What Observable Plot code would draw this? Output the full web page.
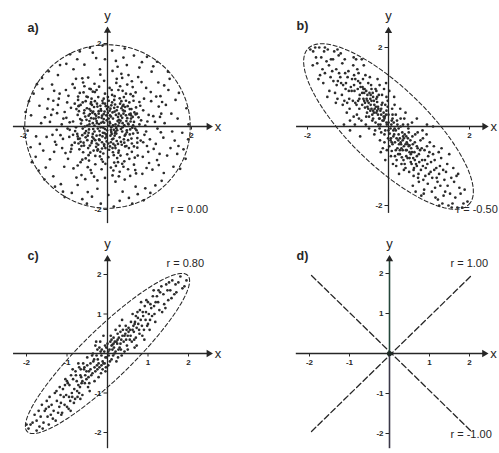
<!DOCTYPE html>
<html><head><meta charset="utf-8">
<script src="https://cdn.jsdelivr.net/npm/d3@7"></script>
<script src="https://cdn.jsdelivr.net/npm/@observablehq/plot@0.6"></script>
<style>
html,body{margin:0;padding:0;background:#fff;overflow:hidden}
#fig{position:relative;width:499px;height:453px;overflow:hidden}
#fig > div{position:absolute;overflow:hidden}
</style></head><body><div id="fig"></div>
<script>
// Sample a): uncorrelated cloud inside a circle
const aPts = [
[0.12,0.34],[-0.25,0.08],[0.41,-0.22],[-0.08,-0.47],[0.55,0.31],[-0.61,0.15],[0.03,0.62],[-0.33,-0.29],[0.27,-0.58],[-0.49,0.44],
[0.66,-0.05],[-0.14,0.21],[0.38,0.52],[-0.72,-0.18],[0.09,-0.13],[-0.41,-0.63],[0.58,-0.41],[-0.22,0.71],[0.19,0.05],[-0.05,-0.28],
[0.31,0.14],[-0.57,-0.39],[0.74,0.22],[-0.18,-0.72],[0.46,-0.09],[-0.36,0.33],[0.07,0.43],[-0.68,0.37],[0.22,-0.35],[-0.11,0.56],
[0.52,0.58],[-0.44,-0.07],[0.15,-0.69],[-0.27,-0.49],[0.63,0.11],[-0.02,0.15],[0.35,-0.12],[-0.53,0.24],[0.11,0.76],[-0.75,-0.02],
[0.44,0.27],[-0.19,-0.11],[0.29,0.68],[-0.62,-0.47],[0.71,-0.28],[-0.07,0.36],[0.17,-0.22],[-0.39,0.59],[0.58,-0.61],[-0.31,0.02],
[0.04,-0.56],[-0.47,0.71],[0.37,0.39],[-0.66,-0.29],[0.25,0.23],[-0.13,-0.38],[0.49,0.07],[-0.24,0.48],[0.68,0.46],[-0.58,-0.62],
[0.13,0.19],[-0.35,-0.18],[0.42,-0.48],[-0.09,0.67],[0.21,-0.04],[-0.71,0.28],[0.33,0.61],[-0.17,-0.61],[0.61,-0.17],[-0.43,0.13],
[0.06,0.27],[-0.29,-0.71],[0.53,0.42],[-0.64,0.52],[0.18,-0.46],[-0.01,-0.09],[0.39,-0.31],[-0.52,-0.26],[0.76,0.05],[-0.21,0.31],
[0.28,0.09],[-0.38,0.67],[0.47,-0.67],[-0.12,-0.24],[0.64,0.34],[-0.77,-0.11],[0.09,0.51],[-0.26,-0.41],[0.36,-0.02],[-0.55,0.39],
[0.02,-0.74],[-0.46,-0.52],[0.56,0.19],[-0.15,0.09],[0.24,0.47],[-0.69,-0.41],[0.43,-0.19],[-0.32,0.47],[0.14,-0.29],[-0.06,0.79],
[0.71,-0.39],[-0.48,0.02],[0.32,0.26],[-0.23,-0.55],[0.51,-0.52],[-0.63,0.07],[0.16,0.64],[-0.37,-0.35],[0.62,0.62],[-0.1,-0.65],
[0.26,-0.63],[-0.59,0.58],[0.45,0.13],[-0.28,0.19],[0.08,-0.38],[-0.74,0.42],[0.69,-0.09],[-0.16,0.42],[0.34,-0.44],[-0.42,-0.46],
[0.2,0.28],[-0.04,0.49],[0.57,-0.29],[-0.51,-0.11],[0.1,-0.18],[-0.3,0.61],[0.48,0.49],[-0.67,-0.55],[0.01,0.33],[-0.2,-0.31],
[0.4,0.03],[-0.56,0.32],[0.23,-0.76],[-0.34,-0.06],[0.6,0.23],[-0.08,-0.43],[0.3,0.55],[-0.45,0.26],[0.12,-0.52],[-0.7,-0.3],
[0.54,-0.07],[-0.25,0.55],[0.39,0.71],[-0.6,-0.21],[0.05,0.11],[-0.14,-0.79],[0.67,0.29],[-0.4,0.38],[0.17,0.36],[-0.03,-0.19],
[0.15,-0.08],[-0.09,0.18],[0.27,0.31],[-0.31,-0.12],[0.08,0.24],[-0.18,-0.21],[0.36,0.08],[-0.27,0.26],[0.02,-0.41],[-0.43,0.05],
[0.49,-0.33],[-0.12,0.62],[0.21,-0.17],[-0.54,-0.16],[0.33,0.44],[-0.06,-0.06],[0.61,0.03],[-0.37,0.52],[0.11,-0.31],[-0.22,-0.44],
[0.44,0.62],[-0.65,0.18],[0.06,0.08],[-0.15,0.38],[0.29,-0.26],[-0.48,-0.33],[0.57,0.42],[-0.03,0.27],[0.18,0.53],[-0.33,-0.58],
[0.72,-0.15],[-0.59,-0.05],[0.24,0.13],[-0.11,-0.15],[0.4,-0.39],[-0.26,0.13],[0.01,0.71],[-0.71,-0.24],[0.52,0.29],[-0.42,0.3],
[0.13,-0.62],[-0.2,0.06],[0.35,0.21],[-0.05,-0.52],[0.63,-0.48],[-0.52,0.61],[0.22,0.39],[-0.36,-0.25],[0.09,-0.02],[-0.17,0.5],
[0.46,-0.14],[-0.64,-0.37],[0.31,-0.7],[-0.08,0.09],[0.55,0.12],[-0.29,-0.33],[0.17,0.73],[-0.45,-0.69],[0.7,0.31],[-0.02,-0.24],
[0.26,0.02],[-0.39,0.2],[0.05,0.38],[-0.56,-0.46],[0.42,0.47],[-0.23,-0.05],[0.14,-0.42],[-0.68,0.5],[0.59,-0.03],[-0.13,0.26],
[0.03,0.19],[-0.16,-0.02],[0.23,-0.09],[-0.09,0.3],[0.16,0.45],[-0.35,0.08],[0.47,0.2],[-0.26,-0.22],[0.06,-0.48],[-0.43,0.42],
[0.32,-0.37],[-0.13,-0.53],[0.53,-0.19],[-0.5,0.16],[0.11,0.58],[-0.02,-0.36],[0.27,0.16],[-0.21,0.37],[0.41,0.37],[-0.38,-0.4],
[0.08,-0.08],[-0.3,0.3],[0.19,-0.52],[-0.06,0.55],[0.5,0.05],[-0.47,-0.22],[0.36,0.49],[-0.19,-0.33],[0.13,0.03],[-0.54,0.0],
[0.25,-0.42],[-0.11,0.11],[0.45,-0.47],[-0.4,0.55],[0.02,0.47],[-0.24,-0.58],[0.56,0.27],[-0.33,0.19],[0.18,-0.16],[-0.07,-0.16],
[0.8,0.15],[-0.82,-0.2],[0.25,-0.86],[-0.3,0.83],[0.85,-0.38],[-0.78,0.55],[0.55,0.78],[-0.6,-0.8],[0.1,0.88],[-0.05,-0.9],
[0.92,-0.12],[-0.9,0.1],[0.65,-0.75],[-0.7,0.72],[0.78,0.5],[-0.85,-0.45],[0.35,-0.9],[-0.4,0.9],[0.2,-0.95],[-0.95,-0.05],
[0.04,0.02],[-0.1,-0.03],[0.19,-0.12],[-0.21,0.22],[0.32,-0.06],[-0.34,0.36],[0.07,-0.22],[-0.01,0.42],[0.38,0.31],[-0.45,-0.15],
[0.95,0.12],[-1.02,0.35],[0.21,1.05],[-0.38,-1.12],[1.15,-0.42],[-0.88,-0.61],[0.67,0.82],[-0.55,0.97],[0.84,-0.73],[-1.21,-0.08],
[0.12,-1.18],[-0.17,1.25],[1.28,0.31],[-0.93,0.74],[0.49,-1.03],[-0.71,-0.94],[1.04,0.61],[-1.3,0.41],[0.33,1.27],[-0.29,-0.91],
[0.88,-0.2],[-0.82,0.12],[0.58,1.09],[-0.62,-1.17],[1.19,-0.05],[-1.08,-0.52],[0.05,0.93],[-0.46,1.18],[0.97,-0.61],[-0.99,0.88],
[0.41,-1.28],[-1.25,-0.37],[0.76,0.59],[-0.14,-1.03],[1.33,-0.27],[-0.7,0.64],[0.26,0.88],[-0.91,-0.25],[0.63,-0.92],[-0.35,0.84],
[1.09,0.25],[-1.16,0.67],[0.16,-0.87],[-0.52,-0.77],[0.92,0.93],[-1.37,0.11],[0.47,1.01],[-0.81,-1.01],[1.24,-0.66],[-0.08,1.1],
[0.71,-0.51],[-1.05,0.19],[0.38,-0.97],[-0.66,0.81],[1.01,-0.31],[-0.94,-0.78],[0.12,1.34],[-0.24,-1.3],[0.85,0.39],[-1.18,0.52],
[0.54,-1.19],[-0.43,0.91],[1.16,0.72],[-0.78,-0.39],[0.29,-1.09],[-1.27,-0.61],[0.81,1.07],[-0.6,1.16],[1.36,0.08],[-0.11,-0.85],
[0.99,-0.88],[-0.87,0.45],[0.44,0.79],[-1.12,-0.21],[0.68,-1.13],[-0.31,1.03],[1.22,0.48],[-0.74,-1.23],[0.19,-1.33],[-1.34,0.28],
[0.9,0.02],[-0.5,0.72],[1.07,-1.04],[-1.03,-0.97],[0.35,1.17],[-0.2,0.96],[0.79,-0.34],[-0.96,0.58],[0.6,0.95],[-1.22,-0.44],
[0.08,-0.99],[-0.64,-0.86],[1.27,-0.14],[-0.83,1.02],[0.52,-0.78],[-1.09,0.05],[0.73,1.19],[-0.4,-1.05],[1.13,0.11],[-0.57,0.82],
[0.22,1.15],[-1.31,-0.2],[0.94,-0.47],[-0.78,0.93],[0.4,-0.84],[-1.0,-0.64],[1.03,0.83],[-0.18,1.38],[0.66,-1.05],[-0.9,-0.08],
[1.3,0.59],[-0.47,-0.98],[0.3,0.97],[-1.14,0.79],[0.83,-1.14],[-0.69,0.49],[1.18,-0.81],[-0.06,-1.24],[0.5,1.24],[-1.2,0.32],
[0.98,0.28],[-0.32,-1.21],[0.14,-1.06],[-0.86,-0.54],[1.25,0.23],[-0.58,1.06],[0.72,-0.7],[-1.06,-0.3],[0.36,0.86],[-0.98,0.21],
[0.87,0.67],[-0.44,-0.82],[1.1,-0.54],[-0.75,1.15],[0.27,-1.2],[-1.29,0.62],[0.61,0.73],[-0.26,0.88],[0.93,-1.0],[-0.53,-1.27],
[1.52,0.31],[-1.61,-0.42],[0.38,1.66],[-0.47,-1.58],[1.21,1.06],[-1.18,1.24],[1.34,-1.12],[-1.29,-1.2],[1.78,-0.15],[-1.82,0.27],
[0.11,1.83],[-0.16,-1.86],[1.45,0.88],[-1.55,0.91],[0.9,-1.49],[-0.85,-1.6],[1.66,-0.66],[-1.71,-0.73],[0.63,1.71],[-0.72,1.62],
[1.88,0.44],[-1.9,-0.1],[0.29,-1.79],[-0.35,1.78],[1.09,1.45],[-1.4,1.33],[1.57,-0.97],[-1.47,-0.99],[1.93,0.05],[-1.62,0.5],
[0.51,-1.72],[-0.6,-1.75],[1.39,0.52],[-1.45,-0.25],[0.82,1.55],[-0.98,1.51],[1.29,-1.31],[-1.11,-1.39],[1.7,0.81],[-1.76,0.79],
[0.02,-1.65],[-0.06,1.62],[1.6,-0.34],[-1.58,0.08],[1.02,-1.6],[-1.06,-1.57],[0.46,1.48],[-0.55,1.49],[1.81,-0.55],[-1.83,-0.5],
[1.48,1.15],[-1.32,1.01],[0.72,-1.63],[-0.24,-1.5],[1.42,-0.7],[-1.53,-0.58],[0.2,1.58],[-0.89,1.74],[1.67,0.19],[-1.68,1.02],
[1.14,-1.42],[-1.25,-1.45],[0.94,1.68],[-0.42,1.9],[1.86,-0.78],[-1.95,0.35],[0.59,-1.86],[-0.71,-1.41],[1.35,0.99],[-1.13,1.48],
[1.54,-0.12],[-1.49,0.22],[0.36,-1.57],[-1.02,-1.7],[1.62,0.64],[-1.7,-0.24],[0.76,1.42],[-0.27,1.65],[1.22,-0.93],[-1.37,-0.79],
[1.44,1.32],[-1.56,1.17],[0.15,-1.93],[-0.49,-1.86],[1.92,-0.31],[-1.8,-0.86],[0.41,1.88],[-0.81,1.38],[1.73,-1.02],[-1.41,0.66],
[1.05,1.32],[-1.27,0.86],[0.67,-1.45],[-1.64,-1.06],[1.5,-0.52],[-1.5,-1.28],[0.24,1.44],[-0.12,1.95],[1.26,0.73],[-1.87,0.61],
[0.86,-1.78],[-0.37,-1.69],[1.69,-0.47],[-1.43,0.43],[1.18,1.56],[-0.66,1.81]
];

// Sample b): negative correlation
const bPts = [
[0.10,0.20],[-0.20,0.05],[0.35,-0.60],[-0.45,0.70],[0.05,-0.35],[0.50,-0.15],[-0.30,0.90],[0.25,-0.05],[-0.55,0.25],[0.40,-0.95],
[-0.10,-0.40],[0.15,0.55],[-0.40,0.15],[0.55,-0.70],[0.00,0.30],[-0.25,0.45],[0.30,0.20],[-0.50,1.10],[0.45,-0.40],[-0.05,0.75],
[0.20,-0.85],[-0.35,-0.20],[0.58,0.10],[-0.15,0.15],[0.08,-0.62],[-0.58,0.48],[0.28,-0.30],[-0.22,1.05],[0.42,0.35],[-0.08,-0.85],
[0.12,-0.10],[-0.48,-0.05],[0.38,-1.10],[-0.28,0.62],[0.52,-0.48],[-0.02,0.50],[0.18,0.30],[-0.42,0.95],[0.33,-0.78],[-0.12,0.35],
[0.03,-0.18],[-0.52,0.80],[0.48,0.05],[-0.18,-0.15],[0.22,-0.55],[-0.38,0.40],[0.57,-0.95],[-0.06,1.10],[0.14,0.75],[-0.32,0.10],
[0.26,-1.20],[-0.56,0.05],[0.44,-0.25],[-0.24,0.80],[0.06,-0.75],[-0.46,1.25],[0.36,0.05],[-0.14,-0.55],[0.54,-0.35],[-0.36,0.65],
[0.09,0.45],[-0.21,-0.35],[0.31,-0.45],[-0.59,0.95],[0.47,-0.80],[-0.09,0.25],[0.19,-1.00],[-0.44,0.55],[0.39,0.20],[-0.27,1.20],
[0.02,0.90],[-0.53,0.35],[0.24,-0.70],[-0.17,0.55],[0.51,-1.15],[-0.33,-0.10],[0.13,0.10],[-0.04,-0.60],[0.43,-0.60],[-0.49,0.60],
[0.29,0.45],[-0.26,0.30],[0.56,-0.55],[-0.11,0.95],[0.16,-0.40],[-0.57,1.30],[0.34,-0.15],[-0.39,0.85],[0.07,0.05],[-0.19,-0.65],
[0.49,-0.05],[-0.31,0.50],[0.21,0.15],[-0.01,-0.30],[0.37,-0.85],[-0.54,0.70],[0.11,-0.95],[-0.23,0.20],[0.59,-0.25],[-0.43,1.05],
[0.05,-0.05],[-0.10,0.20],[0.20,-0.30],[-0.30,0.35],[0.15,-0.05],[-0.05,0.10],[0.30,-0.40],[-0.20,0.40],[0.40,-0.20],[-0.40,0.30],
[0.10,-0.45],[-0.15,0.60],[0.25,-0.20],[-0.25,0.05],[0.35,-0.35],[-0.35,0.55],[0.50,-0.50],[-0.50,0.45],[0.00,0.10],[-0.05,0.40],
[0.45,-0.60],[-0.45,0.40],[0.60,-0.45],[-0.60,0.65],[0.18,-0.60],[-0.18,0.30],[0.08,0.15],[-0.08,-0.10],[0.28,-0.70],[-0.28,0.75],
[0.55,-0.90],[-0.55,0.90],[0.65,-0.85],[-0.65,0.85],[0.75,-0.70],[-0.75,0.65],[0.12,-0.25],[-0.12,0.15],[0.38,-0.50],[-0.38,0.20],
[0.22,0.05],[-0.22,-0.05],[0.48,-0.30],[-0.48,0.25],[0.02,-0.50],[-0.02,0.65],[0.32,-0.95],[-0.32,0.95],[0.70,-1.00],[-0.70,1.10],
[0.82,-0.55],[-0.82,0.60],[0.58,-0.65],[-0.58,0.60],[0.44,-0.75],[-0.44,0.80],[0.16,-0.75],[-0.16,0.80],[0.26,-0.45],[-0.26,0.50],
[0.36,-0.25],[-0.36,0.35],[0.06,-0.30],[-0.06,0.30],[0.52,-0.80],[-0.52,0.50],[0.62,-1.10],[-0.62,0.95],[0.72,-0.55],[-0.72,0.70],
[0.85,-1.00],[-0.85,1.05],[0.42,-1.05],[-0.42,0.65],[0.10,0.30],[-0.10,-0.20],[0.30,0.00],[-0.30,0.70],[0.47,-0.45],[-0.47,0.85],
[0.00,-0.10],[-0.12,0.25],[0.14,-0.20],[-0.22,0.20],[0.24,-0.35],[-0.34,0.45],[0.32,-0.55],[-0.04,0.05],[0.42,-0.45],[-0.42,0.45],
[0.18,-0.10],[-0.18,0.45],[0.28,-0.60],[-0.28,0.40],[0.08,-0.40],[-0.08,0.55],[0.52,-0.65],[-0.52,0.65],[0.38,-0.30],[-0.38,0.75],
[0.65,-0.40],[0.80,-1.10],[0.70,-0.75],[0.95,-0.50],[0.75,-1.40],[1.05,-0.90],[0.85,-0.30],[1.15,-1.55],[0.62,-1.25],[0.90,-0.85],
[1.00,-1.20],[0.72,-0.15],[1.10,-0.70],[0.68,-0.95],[0.88,-1.60],[1.18,-1.05],[0.78,-0.60],[0.97,-1.45],[0.64,-0.65],[1.08,-1.30],
[0.83,-0.85],[0.74,-1.20],[1.02,-0.40],[0.92,-1.05],[0.66,-0.20],[1.12,-0.50],[0.86,-1.35],[0.60,-1.50],[0.98,-0.75],[1.16,-1.80],
[0.70,-0.50],[0.94,-0.20],[0.81,-1.75],[1.04,-1.15],[0.76,-0.90],[0.63,-1.05],[1.14,-0.85],[0.89,-0.60],[0.73,-1.30],[1.07,-1.65],
[0.84,-0.10],[0.96,-0.95],[0.67,-1.65],[1.19,-1.30],[0.79,-0.35],[1.01,-0.65],[0.91,-1.25],[0.61,-0.80],[1.13,-1.10],[0.87,-1.70],
[-0.65,0.55],[-0.82,1.20],[-0.71,0.80],[-0.96,0.45],[-0.77,1.45],[-1.06,0.95],[-0.86,0.25],[-1.14,1.60],[-0.63,1.20],[-0.91,0.90],
[-1.01,1.25],[-0.73,0.20],[-1.09,0.65],[-0.69,1.00],[-0.87,1.55],[-1.17,1.10],[-0.79,0.55],[-0.99,1.40],[-0.62,0.70],[-1.07,1.35],
[-0.84,0.90],[-0.75,1.15],[-1.03,0.35],[-0.93,1.00],[-0.67,0.15],[-1.13,0.55],[-0.85,1.30],[-0.61,1.55],[-0.97,0.70],[-1.18,1.85],
[-0.72,0.45],[-0.95,0.15],[-0.80,1.70],[-1.05,1.10],[-0.76,0.95],[-0.64,1.00],[-1.15,0.80],[-0.88,0.65],[-0.74,1.35],[-1.08,1.70],
[-0.83,0.05],[-0.98,0.90],[-0.66,1.70],[-1.19,1.25],[-0.78,0.30],[-1.02,0.60],[-0.90,1.20],[-0.60,0.85],[-1.12,1.05],[-0.86,1.75],
[0.70,0.20],[-0.70,-0.25],[0.95,0.05],[-0.95,-0.10],[1.10,0.00],[-1.10,0.05],
[1.25,-1.20],[1.40,-1.65],[1.30,-0.80],[1.55,-1.30],[1.22,-1.85],[1.65,-1.80],[1.35,-1.10],[1.48,-2.00],[1.75,-1.55],[1.28,-1.50],
[1.60,-1.05],[1.45,-0.95],[1.85,-1.95],[1.38,-1.35],[1.70,-2.05],[1.52,-1.70],[1.24,-0.65],[1.95,-1.90],[1.33,-1.95],[1.62,-1.40],
[1.42,-1.15],[1.78,-1.70],[1.27,-1.00],[1.58,-1.95],[1.50,-0.70],[1.88,-1.60],[1.36,-1.75],[1.68,-1.25],[1.21,-1.40],[1.46,-1.50],
[1.56,-2.05],[1.72,-1.20],[1.31,-0.55],[1.82,-2.05],[1.25,-2.00],
[-1.25,1.15],[-1.42,1.70],[-1.32,0.85],[-1.57,1.35],[-1.23,1.80],[-1.66,1.75],[-1.36,1.15],[-1.50,1.95],[-1.76,1.60],[-1.29,1.45],
[-1.61,1.10],[-1.46,0.90],[-1.86,1.90],[-1.39,1.40],[-1.71,2.00],[-1.53,1.65],[-1.26,0.70],[-1.93,1.95],[-1.34,1.90],[-1.63,1.45],
[-1.43,1.25],[-1.79,1.75],[-1.28,1.05],[-1.59,1.90],[-1.51,0.75],[-1.87,1.55],[-1.37,1.70],[-1.69,1.30],[-1.22,1.35],[-1.47,1.55],
[-1.57,2.00],[-1.73,1.20],[-1.30,0.60],[-1.81,2.00],[-1.26,1.95]
];

// Sample c): strong positive correlation
const cPts = [
[0.05,0.10],[-0.10,-0.25],[0.20,0.05],[-0.25,0.10],[0.15,0.40],[-0.05,-0.45],[0.30,0.15],[-0.35,-0.20],[0.10,-0.15],[-0.20,0.15],
[0.40,0.30],[-0.40,-0.55],[0.25,0.50],[-0.15,-0.05],[0.00,0.25],[0.35,-0.05],[-0.30,-0.45],[0.50,0.45],[-0.50,-0.30],[0.12,0.22],
[-0.08,0.05],[0.45,0.70],[-0.45,-0.75],[0.22,-0.20],[-0.28,0.30],[0.55,0.35],[-0.55,-0.55],[0.02,-0.30],[0.32,0.55],[-0.12,-0.40],
[0.18,0.30],[-0.38,-0.05],[0.48,0.20],[-0.22,-0.60],[0.08,0.45],[-0.02,-0.10],[0.28,0.40],[-0.48,-0.85],[0.42,0.05],[-0.18,0.30],
[0.58,0.80],[-0.58,-0.40],[0.14,-0.05],[-0.32,-0.70],[0.38,0.60],[-0.06,0.20],[0.24,0.25],[-0.42,-0.25],[0.52,0.65],[-0.26,-0.30],
[0.06,-0.20],[-0.14,0.10],[0.34,0.35],[-0.52,-0.65],[0.44,0.50],[-0.36,0.00],[0.16,0.15],[-0.04,-0.35],[0.26,-0.10],[-0.24,-0.15],
[0.46,0.35],[-0.46,-0.45],[0.10,0.35],[-0.16,-0.50],[0.56,0.60],[-0.56,-0.75],[0.30,0.70],[-0.30,0.20],[0.20,0.60],[-0.10,0.45],
[0.36,0.85],[-0.44,-0.95],[0.50,0.10],[-0.50,-0.10],
[0.02,0.05],[-0.05,-0.10],[0.12,0.10],[-0.12,-0.20],[0.22,0.30],[-0.22,-0.25],[0.32,0.25],[-0.32,-0.35],[0.42,0.45],[-0.42,-0.40],
[0.52,0.55],[-0.52,-0.45],[0.62,0.60],[-0.62,-0.70],[0.07,0.30],[-0.07,-0.25],[0.17,0.00],[-0.17,0.05],[0.27,0.10],[-0.27,-0.05],
[0.37,0.45],[-0.37,-0.50],[0.47,0.60],[-0.47,-0.60],[0.57,0.45],[-0.57,-0.35],[0.67,0.75],[-0.67,-0.55],[0.03,-0.05],[-0.03,0.15],
[0.10,0.20],[-0.20,-0.35],[0.33,0.10],[-0.33,-0.15],[0.72,0.65],[-0.72,-0.80],[0.15,0.25],[-0.15,-0.30],[0.25,0.35],[-0.25,-0.40],
[0.65,0.55],[0.75,0.90],[0.85,0.70],[0.70,0.40],[0.95,1.05],[0.80,1.10],[1.05,0.85],[0.90,0.60],[1.15,1.20],[0.68,0.80],
[0.88,0.95],[1.00,1.30],[0.72,0.20],[1.10,0.95],[0.62,1.00],[0.98,0.70],[0.78,0.60],[1.12,1.45],[0.83,1.30],[1.18,0.80],
[0.92,1.20],[0.66,0.35],[1.02,1.00],[0.76,0.75],[1.08,1.15],[0.86,0.45],[0.96,1.35],[0.64,0.70],[1.16,1.00],[0.74,1.05],
[0.82,0.85],[1.04,0.60],[0.94,0.85],[0.70,0.95],[1.14,1.60],[0.60,0.30],[0.87,1.05],[1.06,1.25],[0.79,0.50],[1.00,0.75],
[0.67,0.15],[0.91,0.35],[1.19,1.30],
[-0.65,-0.60],[-0.75,-0.95],[-0.85,-0.65],[-0.70,-0.35],[-0.95,-1.10],[-0.80,-1.15],[-1.05,-0.80],[-0.90,-0.55],[-1.15,-1.25],[-0.68,-0.85],
[-0.88,-1.00],[-1.00,-1.35],[-0.72,-0.25],[-1.10,-0.90],[-0.62,-1.05],[-0.98,-0.75],[-0.78,-0.55],[-1.12,-1.50],[-0.83,-1.25],[-1.18,-0.85],
[-0.92,-1.20],[-0.66,-0.40],[-1.02,-1.05],[-0.76,-0.70],[-1.08,-1.10],[-0.86,-0.40],[-0.96,-1.40],[-0.64,-0.75],[-1.16,-1.05],[-0.74,-1.10],
[-0.82,-0.90],[-1.04,-0.65],[-0.94,-0.80],[-0.70,-1.00],[-1.14,-1.55],[-0.60,-0.25],[-0.87,-1.10],[-1.06,-1.30],[-0.79,-0.45],[-1.00,-0.70],
[-0.67,-1.15],[-0.91,-1.45],[-1.19,-1.35],
[1.25,1.30],[1.40,1.25],[1.30,1.55],[1.55,1.60],[1.45,1.75],[1.65,1.50],[1.35,1.05],[1.75,1.80],[1.50,1.35],[1.85,1.65],
[1.22,1.45],[1.60,1.85],[1.38,1.50],[1.70,1.55],[1.28,1.10],[1.95,1.85],[1.48,1.60],[1.80,1.95],[1.33,1.70],[1.58,1.40],
[1.43,1.15],[1.68,1.75],[1.26,1.60],[1.90,1.70],[1.52,1.80],
[-1.25,-1.20],[-1.40,-1.55],[-1.30,-1.00],[-1.55,-1.45],[-1.45,-1.80],[-1.65,-1.60],[-1.35,-1.65],[-1.75,-1.70],[-1.50,-1.20],[-1.85,-1.75],
[-1.22,-1.50],[-1.60,-1.90],[-1.38,-1.30],[-1.70,-1.45],[-1.28,-1.70],[-1.95,-1.90],[-1.48,-1.60],[-1.80,-1.55],[-1.33,-1.45],[-1.58,-1.75],
[-1.43,-1.10],[-1.68,-1.85],[-1.26,-0.95],[-1.90,-1.80],[-1.52,-1.40],[-2.00,-1.80],[-1.62,-1.30],[-1.45,-1.35],[-1.75,-1.95]
];

// d): perfect correlation lines
const lineR1 = [[-1.95,-1.95],[2.05,1.95]];
const lineRm1 = [[-1.95,1.95],[2.05,-1.95]];

// Tick values per panel
const ticksA = [-2, 2];
const ticksB = [-2, 2];
const ticksC = [-2, -1, 1, 2];
const ticksD = [-2, -1, 1, 2];

// Dashed bounding ellipses: semi-axes and tilt (degrees)
const ellipseA = {a: 1.97, b: 1.97, tilt: 0};
const ellipseB = {a: 2.8, b: 0.97, tilt: -45};
const ellipseC = {a: 2.8, b: 0.62, tilt: 45};

const panelTitles = ["a)", "b)", "c)", "d)"];
const rTexts = ["r = 0.00", "r = -0.50", "r = 0.80", "r = 1.00", "r = -1.00"];

const INK = "#262626";
const DOT = "#2c2c2c";
const FONT = "Liberation Sans, Arial, sans-serif";

function outline(e) {
  const t = e.tilt * Math.PI / 180;
  return d3.range(0, 361, 3).map(deg => {
    const p = deg * Math.PI / 180;
    const u = e.a * Math.cos(p), v = e.b * Math.sin(p);
    return [u * Math.cos(t) - v * Math.sin(t), u * Math.sin(t) + v * Math.cos(t)];
  });
}

const panels = [
  {left: 0, top: 0, w: 249, h: 225, ox: 107, oy: 126, ux: 42, uy: 41.5,
   xAx: [-2.24, 2.41], yAx: [-2.34, 2.31], ticks: ticksA, pts: aPts, ellipse: ellipseA,
   title: panelTitles[0], titleAt: [27, 23], notes: [{t: rTexts[0], at: [170, 205]}]},
  {left: 249, top: 0, w: 250, h: 225, ox: 139, oy: 126, ux: 40.5, uy: 39.5,
   xAx: [-2.27, 2.37], yAx: [-2.2, 2.42], ticks: ticksB, pts: bPts, ellipse: ellipseB,
   title: panelTitles[1], titleAt: [47, 21], notes: [{t: rTexts[1], at: [207, 205]}]},
  {left: 0, top: 225, w: 249, h: 228, ox: 107, oy: 128, ux: 40.5, uy: 39.5,
   xAx: [-2.32, 2.5], yAx: [-2.41, 2.39], ticks: ticksC, pts: cPts, ellipse: ellipseC,
   title: panelTitles[2], titleAt: [27, 26], notes: [{t: rTexts[2], at: [166, 34]}]},
  {left: 249, top: 225, w: 250, h: 228, ox: 140, oy: 128, ux: 40, uy: 40,
   xAx: [-2.33, 2.37], yAx: [-2.38, 2.36], ticks: ticksD, pts: null, ellipse: null,
   title: panelTitles[3], titleAt: [47, 26],
   notes: [{t: rTexts[3], at: [201, 34]}, {t: rTexts[4], at: [201, 205]}]}
];

const fig = document.getElementById("fig");

panels.forEach((p, i) => {
  const marks = [];
  if (p.ellipse) {
    marks.push(Plot.line(outline(p.ellipse), {x: d => d[0], y: d => d[1],
      stroke: INK, strokeWidth: 1.05, strokeDasharray: "4,2.5", curve: "linear"}));
  }
  if (p.pts) {
    marks.push(Plot.dot(p.pts, {x: d => d[0], y: d => d[1], r: 1.35, fill: DOT, stroke: "none"}));
  }
  if (i === 3) {
    marks.push(Plot.line(lineR1, {x: d => d[0], y: d => d[1], stroke: INK, strokeWidth: 1.3, strokeDasharray: "6,3"}));
    marks.push(Plot.line(lineRm1, {x: d => d[0], y: d => d[1], stroke: INK, strokeWidth: 1.3, strokeDasharray: "6,3"}));
  }
  // axes through the origin
  marks.push(Plot.ruleY([0], {x1: p.xAx[0], x2: p.xAx[1], stroke: INK, strokeWidth: 1.3}));
  if (i === 3) {
    marks.push(Plot.ruleX([0], {y1: 0, y2: p.yAx[1], stroke: "#24463a", strokeWidth: 1.6}));
    marks.push(Plot.ruleX([0], {y1: p.yAx[0], y2: 0, stroke: "#3a3848", strokeWidth: 1.6}));
    marks.push(Plot.dot([[0, 0]], {x: d => d[0], y: d => d[1], r: 2.6, fill: "#1e2a24"}));
  } else {
    marks.push(Plot.ruleX([0], {y1: p.yAx[0], y2: p.yAx[1], stroke: INK, strokeWidth: 1.3}));
  }
  // arrowheads
  marks.push(Plot.dot([[p.xAx[1], 0]], {x: d => d[0], y: d => d[1], symbol: "triangle", r: 2.7, fill: INK, stroke: "none", rotate: 90}));
  marks.push(Plot.dot([[0, p.yAx[1]]], {x: d => d[0], y: d => d[1], symbol: "triangle", r: 2.7, fill: INK, stroke: "none"}));
  // axis names
  marks.push(Plot.text(["x"], {x: p.xAx[1], y: 0, dx: 6, textAnchor: "start", fontSize: 13, fontFamily: FONT, fill: INK}));
  marks.push(Plot.text(["y"], {x: 0, y: p.yAx[1], dy: -15, fontSize: 13, fontFamily: FONT, fill: INK}));
  // ticks and tick labels
  marks.push(Plot.ruleX(p.ticks, {x: d => d, y1: 0, y2: -3.5 / p.uy, stroke: INK, strokeWidth: 1}));
  marks.push(Plot.ruleY(p.ticks, {y: d => d, x1: -3.5 / p.ux, x2: 0, stroke: INK, strokeWidth: 1}));
  marks.push(Plot.text(p.ticks, {x: d => d, y: 0, dy: 9, text: d => String(d), fontSize: 8, fontWeight: "bold", fontFamily: FONT, fill: INK}));
  marks.push(Plot.text(p.ticks, {x: 0, y: d => d, dx: -6, textAnchor: "end", text: d => String(d), fontSize: 8, fontWeight: "bold", fontFamily: FONT, fill: INK}));
  // panel title and correlation notes
  marks.push(Plot.text([p.title], {frameAnchor: "top-left", dx: p.titleAt[0], dy: p.titleAt[1], textAnchor: "start", lineAnchor: "top", fontSize: 12.5, fontWeight: "bold", fontFamily: FONT, fill: INK}));
  p.notes.forEach(n => {
    marks.push(Plot.text([n.t], {frameAnchor: "top-left", dx: n.at[0], dy: n.at[1], textAnchor: "start", lineAnchor: "top", fontSize: 11, fontFamily: FONT, fill: INK}));
  });

  const chart = Plot.plot({
    width: p.w, height: p.h,
    margin: 0,
    x: {domain: [-p.ox / p.ux, (p.w - p.ox) / p.ux], axis: null},
    y: {domain: [-(p.h - p.oy) / p.uy, p.oy / p.uy], axis: null},
    style: {background: "transparent", overflow: "hidden"},
    marks
  });
  const box = document.createElement("div");
  box.style.left = p.left + "px";
  box.style.top = p.top + "px";
  box.style.width = p.w + "px";
  box.style.height = p.h + "px";
  box.appendChild(chart);
  fig.appendChild(box);
});
</script></body></html>
